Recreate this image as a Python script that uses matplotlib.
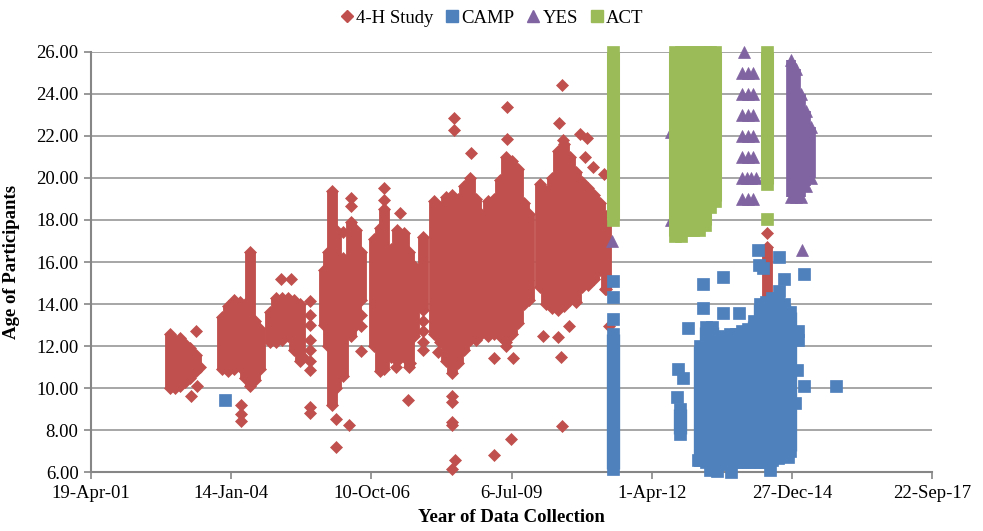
import numpy as np
import matplotlib
matplotlib.use("Agg")
import matplotlib.pyplot as plt
import matplotlib.dates as mdates
from matplotlib.lines import Line2D
from datetime import datetime, timedelta

plt.rc("font", family=["Liberation Serif", "DejaVu Serif"])

# dense runs of overlapping points: (decimal year, lowest age, highest age)
h4_bands = [
    (2002.84, 10.0, 12.6), (2002.94, 10.0, 12.3), (2003.04, 10.1, 12.4), (2003.14, 10.3, 12.1),
    (2003.23, 10.5, 11.9), (2003.35, 10.8, 11.6),
    (2003.86, 10.9, 13.4), (2003.98, 10.8, 13.9), (2004.09, 10.9, 14.2), (2004.21, 11.0, 14.1),
    (2004.31, 10.5, 14.0), (2004.41, 10.1, 16.5), (2004.50, 10.4, 13.2), (2004.60, 10.9, 12.8),
    (2004.80, 12.2, 13.6), (2004.91, 12.2, 14.3), (2005.03, 12.3, 14.3), (2005.15, 12.5, 14.3),
    (2005.26, 11.8, 14.2), (2005.38, 11.3, 14.0),
    (2005.85, 13.0, 15.6), (2005.93, 12.0, 16.5), (2006.01, 9.2, 19.4), (2006.09, 10.0, 17.5),
    (2006.22, 10.6, 16.2), (2006.38, 12.5, 17.9), (2006.48, 13.0, 17.5), (2006.57, 14.2, 16.5),
    (2006.83, 12.0, 17.1), (2006.94, 10.8, 17.6), (2007.02, 10.9, 18.5), (2007.16, 11.5, 16.6),
    (2007.28, 11.3, 17.5), (2007.40, 11.5, 17.4), (2007.51, 11.0, 16.5), (2007.61, 12.5, 15.8),
    (2007.79, 13.7, 17.2),
    (2008.00, 12.6, 18.9), (2008.12, 12.2, 18.6), (2008.23, 11.3, 19.1), (2008.35, 10.7, 19.2),
    (2008.47, 11.2, 19.0), (2008.58, 11.8, 19.6), (2008.70, 12.3, 20.0), (2008.82, 12.3, 19.0),
    (2008.92, 12.6, 18.3),
    (2009.05, 12.5, 18.9), (2009.17, 12.6, 19.0), (2009.29, 12.5, 19.9), (2009.40, 12.2, 21.0),
    (2009.52, 12.6, 20.8), (2009.64, 13.1, 20.4), (2009.76, 14.0, 18.8), (2009.85, 14.2, 18.3),
    (2010.07, 14.8, 19.7), (2010.19, 14.0, 19.4), (2010.30, 13.8, 20.0), (2010.42, 13.7, 21.3),
    (2010.54, 13.9, 21.6), (2010.65, 14.2, 21.0), (2010.77, 14.1, 20.3), (2010.89, 14.8, 19.8),
    (2011.01, 14.9, 19.5), (2011.12, 15.2, 19.2), (2011.24, 15.6, 18.8), (2011.36, 14.7, 18.2),
    (2014.50, 13.1, 16.7),
]
h4_year = [2003.24, 2003.37, 2003.35, 2003.43, 2004.23, 2004.22, 2004.23, 2005.01, 2005.21, 2005.44,
           2005.58, 2005.58, 2005.58, 2005.58, 2005.58, 2005.58, 2005.58, 2005.58, 2005.58,
           2006.08, 2006.33, 2006.08, 2006.38, 2006.38, 2006.21, 2006.56, 2006.56, 2006.56,
           2007.02, 2007.02, 2007.34, 2007.49, 2007.26, 2007.53,
           2007.79, 2007.79, 2007.79, 2007.79,
           2008.38, 2008.38, 2008.72, 2008.07, 2008.35, 2008.35, 2008.35, 2008.35, 2008.41, 2008.35,
           2009.43, 2009.42, 2009.17, 2009.40, 2009.53, 2009.84, 2009.17, 2009.49,
           2010.49, 2010.43, 2010.52, 2010.85, 2010.98, 2010.95, 2011.11, 2011.31, 2010.12, 2010.41,
           2010.48, 2010.63, 2010.49, 2011.10, 2011.33, 2011.42, 2014.50]
h4_age = [9.65, 10.1, 12.7, 11.0, 9.2, 8.75, 8.45, 15.2, 15.2, 11.5,
          14.15, 13.5, 13.0, 12.3, 11.8, 11.3, 10.85, 9.1, 8.8,
          8.55, 8.25, 7.2, 19.05, 18.65, 17.45, 13.5, 12.95, 11.75,
          19.5, 18.95, 18.35, 9.45, 11.0, 11.2,
          13.2, 12.7, 12.2, 11.8,
          22.85, 22.3, 21.2, 11.7, 9.65, 9.35, 8.4, 8.25, 6.6, 6.15,
          23.35, 21.85, 11.45, 12.0, 11.45, 15.15, 6.82, 7.57,
          24.43, 22.6, 21.8, 22.1, 21.9, 21.0, 20.5, 20.2, 12.47, 12.45,
          11.5, 12.95, 8.22, 15.3, 14.7, 12.97, 17.4]

camp_bands = [
    (2011.49, 6.15, 12.6), (2012.80, 7.8, 9.0),
    (2013.19, 6.6, 12.0), (2013.31, 6.5, 12.9), (2013.42, 6.5, 12.9), (2013.54, 6.4, 12.5),
    (2013.66, 6.4, 12.4), (2013.78, 6.5, 12.6), (2013.90, 6.5, 12.6), (2014.01, 6.5, 12.7),
    (2014.13, 6.5, 12.8), (2014.25, 6.5, 13.2), (2014.36, 6.5, 14.0), (2014.48, 6.5, 14.1),
    (2014.60, 6.6, 14.3), (2014.72, 6.7, 14.3), (2014.83, 6.8, 14.0), (2014.95, 7.0, 13.6),
]
camp_year = [2003.92, 2011.49, 2011.49, 2011.49, 2012.95, 2012.77, 2012.86, 2012.74,
             2013.25, 2013.25, 2013.64, 2013.64, 2013.95, 2014.32, 2014.34, 2014.42, 2014.74,
             2014.84, 2014.74, 2015.23, 2015.10, 2015.10, 2015.08, 2015.23, 2015.05, 2015.84,
             2013.16, 2013.52, 2013.80, 2014.56, 2014.91, 2013.39]
camp_age = [9.45, 15.1, 14.33, 13.3, 12.85, 10.9, 10.5, 9.6,
            14.95, 13.8, 15.3, 13.58, 13.58, 16.55, 15.85, 15.7, 16.25,
            15.2, 14.6, 15.45, 12.7, 12.3, 10.85, 10.1, 9.3, 10.12,
            6.6, 6.05, 6.0, 6.1, 6.75, 6.1]

yes_bands = [
    (2014.97, 19.1, 25.6), (2015.07, 19.1, 25.2), (2015.17, 19.1, 24.0),
    (2015.27, 19.6, 23.2), (2015.36, 20.0, 22.4),
]
yes_year = [2014.05,
            2014.01, 2014.12, 2014.23, 2014.01, 2014.12, 2014.23, 2014.01, 2014.12, 2014.23,
            2014.01, 2014.12, 2014.23, 2014.01, 2014.12, 2014.23,
            2014.01, 2014.10, 2014.19, 2014.28, 2014.01, 2014.12, 2014.23,
            2015.18, 2011.47, 2012.63, 2012.63]
yes_age = [26,
           25, 25, 25, 24, 24, 24, 23, 23, 23,
           22, 22, 22, 21, 21, 21,
           20, 20, 20, 20, 19, 19, 19,
           16.55, 17.0, 18.0, 22.2]

act_bands = [
    (2011.50, 18.0, 26.0), (2012.71, 17.25, 26.0), (2012.82, 17.25, 26.0), (2012.94, 17.5, 26.0),
    (2013.06, 17.5, 26.0), (2013.17, 17.5, 26.0), (2013.29, 17.75, 26.0), (2013.39, 18.6, 26.0),
    (2013.49, 18.9, 26.0), (2014.50, 19.7, 26.0),
]
act_year = [2014.50]
act_age = [18.05]

xtick_dates = ["2001-04-19", "2004-01-14", "2006-10-10", "2009-07-06",
               "2012-04-01", "2014-12-27", "2017-09-22"]
xtick_labels = ["19-Apr-01", "14-Jan-04", "10-Oct-06", "6-Jul-09",
                "1-Apr-12", "27-Dec-14", "22-Sep-17"]
yticks = np.arange(6, 27, 2)


def to_num(years):
    years = np.asarray(years, dtype=float)
    return mdates.date2num(datetime(2001, 1, 1)) + (years - 2001) * 365.25


fig = plt.figure(figsize=(9.83, 5.31), dpi=100)
ax = fig.add_axes([0.0926, 0.1105, 0.8555, 0.7921])


def draw(bands, px, py, color, marker, ms, lw, z):
    b = np.array(bands, dtype=float)
    bx = to_num(b[:, 0])
    ax.vlines(bx, b[:, 1], b[:, 2], colors=color, linewidth=lw, zorder=z, clip_on=False)
    ax.plot(np.r_[bx, bx, to_num(px)], np.r_[b[:, 1], b[:, 2], py], ls="none",
            marker=marker, ms=ms, color=color, mec=color, mew=0.5, zorder=z, clip_on=False)


c_h4, c_camp, c_yes, c_act = "#C0504D", "#4F81BD", "#8064A2", "#9BBB59"
draw(h4_bands, h4_year, h4_age, c_h4, "D", 6.6, 7.8, 3)
draw(camp_bands, camp_year, camp_age, c_camp, "s", 8.2, 9.6, 4)
draw(yes_bands, yes_year, yes_age, c_yes, "^", 8.8, 7.0, 5)
draw(act_bands, act_year, act_age, c_act, "s", 8.6, 9.4, 6)

ax.set_ylim(6, 26)
ax.set_yticks(yticks)
ax.set_yticklabels(["%.2f" % v for v in yticks])
xt = [mdates.date2num(datetime.strptime(d, "%Y-%m-%d")) for d in xtick_dates]
ax.set_xlim(xt[0], xt[-1])
ax.set_xticks(xt)
ax.set_xticklabels(xtick_labels)

ax.set_axisbelow(True)
ax.yaxis.grid(True, color="#8e8e8e", linewidth=1.1)
for s in ["top", "right"]:
    ax.spines[s].set_visible(False)
for s in ["left", "bottom"]:
    ax.spines[s].set_color("#868686")
    ax.spines[s].set_linewidth(1.5)
ax.tick_params(axis="both", length=5, width=1.2, color="#868686", labelsize=13.5, pad=4)

ax.set_ylabel("Age of Participants", fontsize=13.5, fontweight="bold")
ax.yaxis.set_label_coords(-0.084, 0.5)
ax.set_xlabel("Year of Data Collection", fontsize=13.5, fontweight="bold")
ax.xaxis.set_label_coords(0.5, -0.088)

handles = [Line2D([], [], ls="none", marker="D", ms=6.6, color=c_h4),
           Line2D([], [], ls="none", marker="s", ms=8.0, color=c_camp),
           Line2D([], [], ls="none", marker="^", ms=8.8, color=c_yes),
           Line2D([], [], ls="none", marker="s", ms=8.0, color=c_act)]
fig.legend(handles, ["4-H Study", "CAMP", "YES", "ACT"], loc="center",
           bbox_to_anchor=(0.5, 0.966), ncol=4, frameon=False, fontsize=13.5,
           handletextpad=0.1, columnspacing=0.6, handlelength=0.8)

fig.savefig("out.png", dpi=100)
plt.close(fig)
